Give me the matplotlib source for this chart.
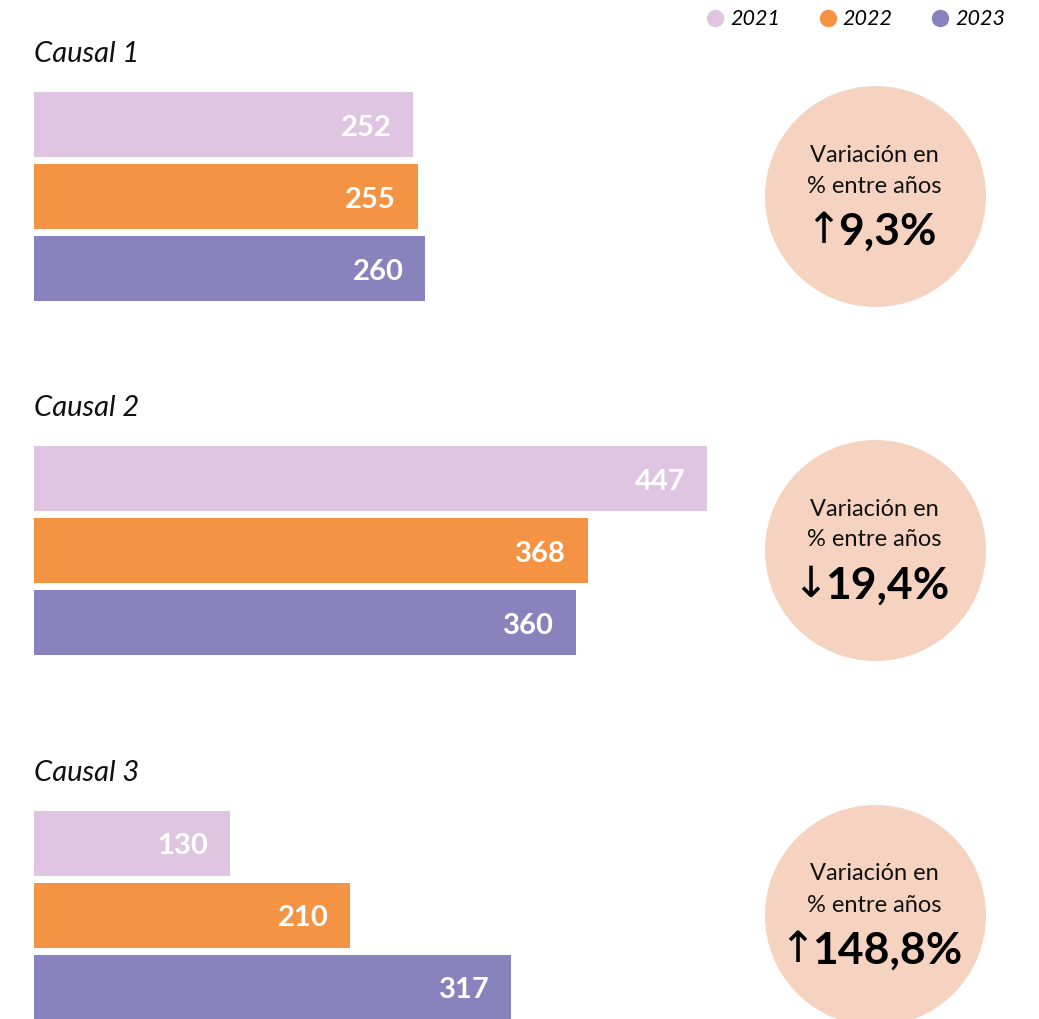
import matplotlib.pyplot as plt
from matplotlib.lines import Line2D

# datos
causales = ["Causal 1", "Causal 2", "Causal 3"]
anios = ["2021", "2022", "2023"]
valores_2021 = [252, 447, 130]
valores_2022 = [255, 368, 210]
valores_2023 = [260, 360, 317]
variacion = [9.3, -19.4, 148.8]

colores = ["#DFC5E1", "#F39343", "#8983BD"]
color_circulo = "#F6D2C1"

plt.rcParams["font.family"] = ["Lato", "DejaVu Sans"]

W, H = 1039, 1019
fig = plt.figure(figsize=(W / 100, H / 100), dpi=100)
ax = fig.add_axes([0, 0, 1, 1])

# escala: px por unidad, barras empiezan en x=34 px
escala = 1.5056
x0 = 34
ax.set_xlim(-x0 / escala, (W - x0) / escala)
ax.set_ylim(H, 0)
ax.axis("off")

tops = [92, 446, 811]        # borde superior de cada grupo (px)
alto, paso = 65, 72
cx = (874.5 - x0) / escala   # centro de los circulos
diam_pt = 221 * 72 / 100

series = [valores_2021, valores_2022, valores_2023]

for g, nombre in enumerate(causales):
    top = tops[g]
    ax.text(0, top - 38, nombre, fontsize=21, style="italic",
            va="center", ha="left", color="#111111")
    for k, serie in enumerate(series):
        yc = top + k * paso + alto / 2
        ax.barh(yc, serie[g], height=alto, left=0, color=colores[k])
        ax.annotate(str(serie[g]), (serie[g], yc), xytext=(-22, -3),
                    textcoords="offset pixels", ha="right", va="center",
                    color="white", fontsize=21, fontweight="bold")

    # circulo de variacion
    cy = top + 104
    ax.scatter([cx], [cy], s=diam_pt ** 2, color=color_circulo,
               linewidths=0, clip_on=False, zorder=1)
    ax.text(cx, cy - 41, "Variación en", ha="center", va="center",
            fontsize=17, color="#111111")
    ax.text(cx, cy - 10, "% entre años", ha="center", va="center",
            fontsize=17, color="#111111")
    v = variacion[g]
    num = f"{abs(v):.1f}".replace(".", ",") + "%"
    t = ax.annotate(num, (cx, cy + 36), xytext=(13, 0), textcoords="offset pixels",
                    ha="center", va="center", fontsize=32,
                    fontweight="bold", color="black")
    fig.canvas.draw()
    bb = t.get_window_extent()
    flecha = "↑" if v > 0 else "↓"
    # flecha a la izquierda del numero
    xd, _ = ax.transData.inverted().transform((bb.x0 + 3, 0))
    ax.text(xd, cy + 35, flecha, ha="right", va="center", fontsize=31,
            family=["DejaVu Sans"], color="black")

handles = [Line2D([], [], marker="o", ls="", color=c, markersize=11.5)
           for c in colores]
fig.legend(handles, anios, loc="upper right", bbox_to_anchor=(0.986, 1.01),
           ncol=3, frameon=False, handlelength=0.7, handletextpad=0.35,
           columnspacing=1.85, prop={"style": "italic", "size": 15.5})

fig.savefig("out.png", dpi=100)
